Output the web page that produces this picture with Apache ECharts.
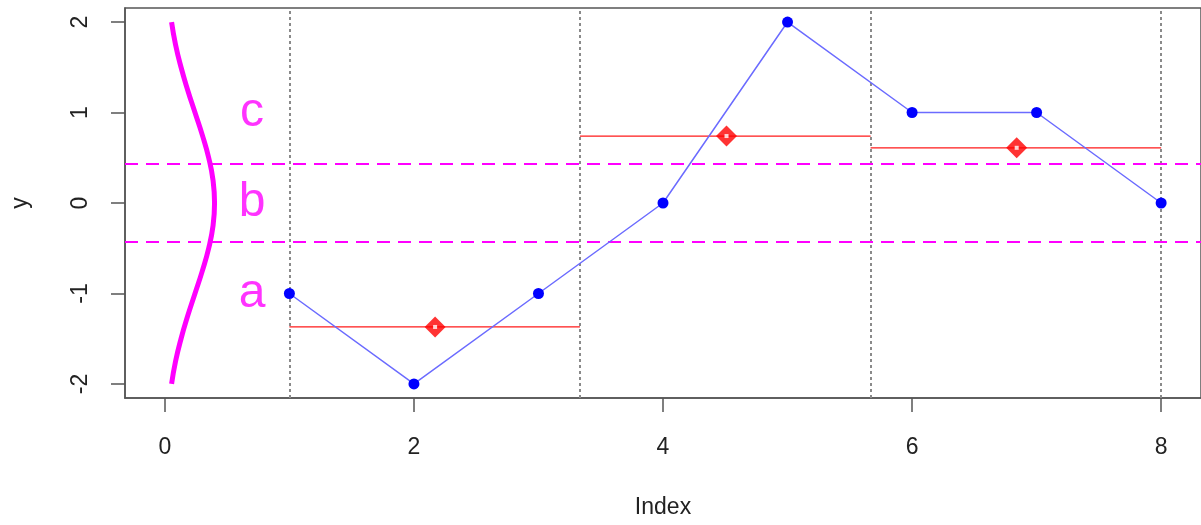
<!DOCTYPE html>
<html>
<head>
<meta charset="utf-8">
<script src="https://cdn.jsdelivr.net/npm/echarts@6/dist/echarts.min.js"></script>
<style>html,body{margin:0;padding:0;background:#fff}#c{width:1201px;height:525px}</style>
</head>
<body>
<div id="c"></div>
<script>
// ---- data ----
const xIndex = [1, 2, 3, 4, 5, 6, 7, 8];
const yValues = [-1, -2, -1, 0, 2, 1, 1, 0];
const breaks = [1, 3.333, 5.667, 8];
const segMeans = [-1.37, 0.74, 0.61];
const segMarkX = [2.17, 4.51, 6.84];
const bandCuts = [-0.4307, 0.4307];
const bandLabels = ['a', 'b', 'c'];
const bandLabelY = [-1, 0, 1];
const bandLabelX = 0.7;
const curveY = [-2, -1.75, -1.5, -1.25, -1, -0.75, -0.5, -0.25, 0, 0.25, 0.5, 0.75, 1, 1.25, 1.5, 1.75, 2];
const curveX = [0.054, 0.086, 0.130, 0.183, 0.242, 0.301, 0.352, 0.387, 0.399, 0.387, 0.352, 0.301, 0.242, 0.183, 0.130, 0.086, 0.054];
const xTicks = [0, 2, 4, 6, 8];
const yTicks = [-2, -1, 0, 1, 2];
const xRange = [-0.32, 8.32];
const yRange = [-2.155, 2.155];

const FONT = 'Liberation Sans';
const chart = echarts.init(document.getElementById('c'));

const series = [];
// grouping lines (vertical dotted) + band cuts (horizontal dashed)
series.push({
  type: 'line', data: [], silent: true,
  markLine: {
    symbol: 'none', silent: true, label: {show: false},
    data: breaks.map(b => ({xAxis: b, lineStyle: {color: '#8a8a8a', width: 2, type: [3, 3]}}))
      .concat(bandCuts.map(c => ({yAxis: c, lineStyle: {color: '#ff00ff', width: 2.2, type: [13, 8]}})))
  }
});
// gaussian curve
series.push({
  type: 'line', data: curveY.map((y, i) => [curveX[i], y]), smooth: true, showSymbol: false,
  lineStyle: {color: '#ff00ff', width: 5}, z: 3
});
// band labels
series.push({
  type: 'scatter', symbolSize: 0,
  data: bandLabelY.map((y, i) => ({value: [bandLabelX, y], name: bandLabels[i]})),
  label: {show: true, position: 'inside', formatter: p => p.name, color: '#ff00ff', fontSize: 48, fontFamily: FONT}
});
// segment means
for (let i = 0; i < segMeans.length; i++) {
  series.push({
    type: 'line', data: [[breaks[i], segMeans[i]], [breaks[i + 1], segMeans[i]]],
    showSymbol: false, lineStyle: {color: '#ff1a1a', width: 1.2}, z: 4
  });
}
// data line
series.push({
  type: 'line', data: xIndex.map((x, i) => [x, yValues[i]]),
  symbol: 'circle', symbolSize: 11, showAllSymbol: true,
  itemStyle: {color: '#0000ff'}, lineStyle: {color: '#6b6bff', width: 1.5}, z: 5
});
// mean markers
series.push({
  type: 'scatter', data: segMarkX.map((x, i) => [x, segMeans[i]]),
  symbol: 'diamond', symbolSize: [21, 21], itemStyle: {color: '#ff0000'}, z: 6
});
series.push({
  type: 'scatter', data: segMarkX.map((x, i) => [x, segMeans[i]]),
  symbol: 'rect', symbolSize: 4, itemStyle: {color: '#ffffff'}, z: 7
});

chart.setOption({
  animation: false,
  grid: {left: 125, right: -2, top: 8, bottom: 127, show: true, borderColor: '#555', borderWidth: 1.5, backgroundColor: 'transparent'},
  xAxis: {
    type: 'value', min: xRange[0], max: xRange[1],
    name: 'Index', nameLocation: 'middle', nameGap: 98,
    nameTextStyle: {fontSize: 23, color: '#222', fontFamily: FONT},
    axisLine: {show: true, onZero: false, lineStyle: {color: '#555', width: 1.5}},
    axisTick: {show: true, length: 14, customValues: xTicks, lineStyle: {color: '#555', width: 1.5}},
    axisLabel: {customValues: xTicks, margin: 38, fontSize: 23, color: '#222', fontFamily: FONT},
    splitLine: {show: false}
  },
  yAxis: {
    type: 'value', min: yRange[0], max: yRange[1],
    name: 'y', nameLocation: 'middle', nameGap: 93,
    nameTextStyle: {fontSize: 23, color: '#222', fontFamily: FONT},
    axisLine: {show: true, onZero: false, lineStyle: {color: '#555', width: 1.5}},
    axisTick: {show: true, length: 14, customValues: yTicks, lineStyle: {color: '#555', width: 1.5}},
    axisLabel: {customValues: yTicks, margin: 33, rotate: 90, fontSize: 23, color: '#222', fontFamily: FONT},
    splitLine: {show: false}
  },
  series: series
});
</script>
</body>
</html>
